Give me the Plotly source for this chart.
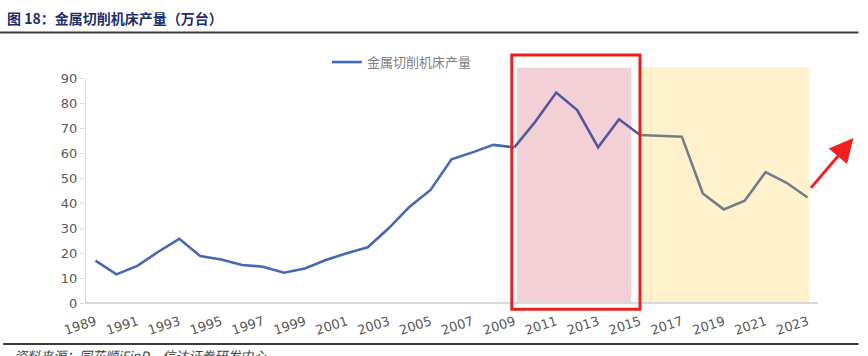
import plotly.graph_objects as go

years = [str(y) for y in range(1989, 2024)]
output = [17.0, 11.5, 14.9, 20.6, 25.8, 18.9, 17.5, 15.3, 14.6, 12.2,
          13.9, 17.3, 20.0, 22.4, 30.0, 38.7, 45.4, 57.7, 60.5, 63.5,
          62.5, 72.8, 84.5, 77.5, 62.5, 73.8, 67.5, 67.2, 66.8, 44.0,
          37.6, 41.1, 52.6, 48.3, 42.4]
tick_years = [str(y) for y in range(1989, 2024, 2)]
y_ticks = list(range(0, 100, 10))
series_name = "金属切削机床产量"
title_text = "图 18：金属切削机床产量（万台）"
source_text = "资料来源：同花顺iFinD，信达证券研发中心"

i09 = years.index("2009")
i15 = years.index("2015")

fig = go.Figure()
fig.add_trace(go.Scatter(x=years[:i09 + 1], y=output[:i09 + 1], mode="lines",
                         name=series_name, line=dict(color="#4468B4", width=2.6),
                         showlegend=True))
fig.add_trace(go.Scatter(x=years[i09:i15 + 1], y=output[i09:i15 + 1], mode="lines",
                         line=dict(color="#52589E", width=2.6), showlegend=False))
fig.add_trace(go.Scatter(x=years[i15:], y=output[i15:], mode="lines",
                         line=dict(color="#717E8C", width=2.6), showlegend=False))

shapes = [
    # pink highlight
    dict(type="rect", xref="x", yref="y", x0=20.13, x1=25.58, y0=0, y1=94.5,
         fillcolor="#F3D0D6", line=dict(width=0), layer="below"),
    # yellow highlight
    dict(type="rect", xref="x", yref="y", x0=26.08, x1=34.07, y0=0, y1=94.8,
         fillcolor="#FFF1CC", line=dict(width=0), layer="below"),
    # red frame
    dict(type="rect", xref="x", yref="y", x0=19.88, x1=26.0, y0=-2.5, y1=99.6,
         line=dict(color="#E8201E", width=3), fillcolor="rgba(0,0,0,0)", layer="above"),
    # y axis line
    dict(type="line", xref="x", yref="y", x0=-0.47, x1=-0.47, y0=0, y1=90,
         line=dict(color="#D9D9D9", width=1), layer="below"),
    # top rule
    dict(type="line", xref="paper", yref="paper", x0=-0.1159, x1=1.0552, y0=1.0753, y1=1.0753,
         line=dict(color="#3C3C3C", width=2)),
    # bottom rule
    dict(type="line", xref="paper", yref="paper", x0=-0.1118, x1=1.0552, y0=-0.1274, y1=-0.1274,
         line=dict(color="#3C3C3C", width=2)),
]

annotations = [
    dict(text=title_text, xref="paper", yref="paper", x=-0.109, y=1.131,
         xanchor="left", yanchor="middle", showarrow=False,
         font=dict(family="Noto Sans CJK SC", size=14, color="#1A2F6B", weight="bold")),
    dict(text=source_text, xref="paper", yref="paper", x=-0.0995, y=-0.128,
         xanchor="left", yanchor="top", showarrow=False,
         font=dict(family="Noto Sans CJK SC", size=13, color="#404040", style="italic")),
    dict(text=" ", xref="paper", yref="paper", x=1.0484, y=0.668,
         showarrow=True, ax=-46, ay=54, arrowhead=2, arrowsize=1.6,
         arrowwidth=3, arrowcolor="#F02020", standoff=0),
]

fig.update_layout(
    width=868, height=356,
    margin=dict(l=85, r=49.5, t=52, b=45),
    paper_bgcolor="white", plot_bgcolor="white",
    font=dict(family="DejaVu Sans", size=13, color="#595959"),
    shapes=shapes, annotations=annotations,
    legend=dict(orientation="h", x=0.33, y=0.961, xanchor="left", yanchor="middle",
                bgcolor="rgba(0,0,0,0)",
                font=dict(family="Noto Sans CJK SC", size=13, color="#808080")),
    xaxis=dict(type="category", range=[-0.5, 34.5], tickmode="array",
               tickvals=tick_years, ticktext=tick_years, tickangle=-18,
               showgrid=False, showline=False, zeroline=False, ticks="",
               tickfont=dict(family="DejaVu Sans", size=13, color="#595959")),
    yaxis=dict(range=[-3.2, 100.8], tickmode="array", tickvals=y_ticks,
               showgrid=False, showline=False, zeroline=True, zerolinecolor="#D9D9D9",
               zerolinewidth=1.5, ticks="outside", ticklen=4, tickcolor="#D9D9D9",
               tickfont=dict(family="DejaVu Sans", size=13, color="#595959")),
)

fig.write_html("out.html", config={"displayModeBar": False},
               post_script="document.body.style.margin='0px';")
